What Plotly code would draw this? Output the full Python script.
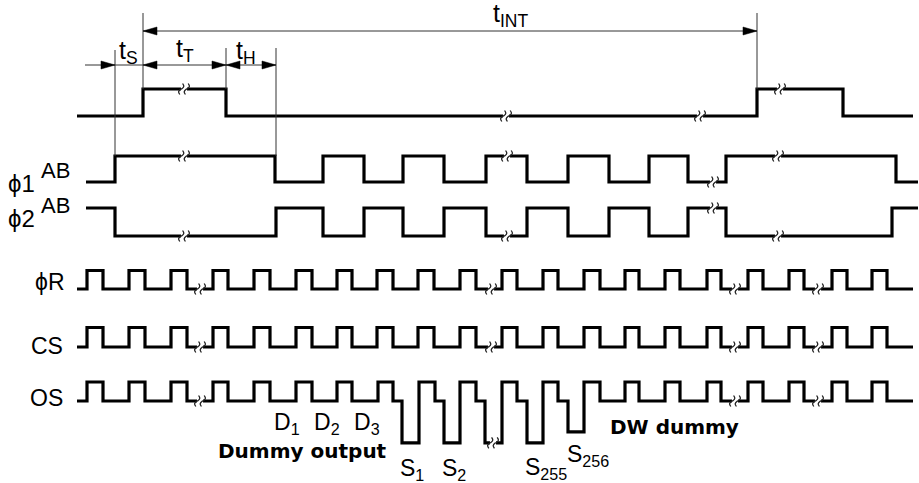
import plotly.graph_objects as go

# ---------------- data (time axis in diagram units) ----------------
# top start pulse
st_start, st_end, st_init = 77, 913, 0
st_edges = [143, 226, 757, 843]
st_breaks = [(184, 1), (506, 0), (700, 0), (780, 1)]

# phi1 / phi2 transfer clocks
ph_start, ph_end = 86, 918
phi1_init = 0
phi1_edges = [115, 275, 323, 364, 403, 444, 486, 527, 568, 609, 649, 688, 726, 896]
phi1_breaks = [(184, 1), (507, 1), (713, 0), (778, 1)]
phi2_init = 1
phi2_edges = [115, 276, 323, 364, 403, 444, 486, 527, 568, 609, 649, 688, 726, 892]
phi2_breaks = [(184, 0), (507, 0), (713, 1), (778, 0)]

# reset / clamp clocks
clk_start, clk_end = 77, 913
clk_rise = [87, 129, 171, 213, 254, 296, 337, 377, 418, 460, 502, 543, 584,
            625, 665, 707, 748, 789, 832, 872]
clk_fall = [103, 145, 187, 228, 270, 312, 352, 393, 434, 476, 517, 558, 600,
            639, 680, 721, 763, 804, 847, 887]
clk_breaks = [200, 491, 735, 818]

# output signal: (time, level) ; 1 = high, 0 = low, negative = signal dip
os_times = [77, 87, 103, 129, 145, 171, 187, 213, 228, 254, 270, 296, 312,
            337, 352, 378, 393, 402, 419, 435, 444, 460, 476, 485, 502, 517,
            527, 543, 558, 568, 584, 600, 625, 639, 665, 680, 707, 721, 748,
            763, 789, 804, 832, 847, 872, 887, 913]
os_levels = [0, 1, 0, 1, 0, 1, 0, 1, 0, 1, 0, 1, 0,
             1, 0, 1, 0, -2.2, 1, 0, -2.2, 1, 0, -2.2, 1, 0,
             -2.2, 1, 0, -1.63, 1, 0, 1, 0, 1, 0, 1, 0, 1,
             0, 1, 0, 1, 0, 1, 0, 0]
os_breaks = [(200, 0), (493, -2.2), (735, 0), (818, 0)]

# dimension lines
dim_vlines = [(115, 50, 156), (143, 13, 89), (226, 48, 89), (276, 48, 156), (757, 13, 89)]
tint_span = (143, 757)
lower_span = (85, 276)
arrow_tips_right = [115, 226, 276]
arrow_tips_left = [143, 226]

# ---------------- layout / style ----------------
ROWS = {
    "st": (116, 27),
    "phi1": (182, 26),
    "phi2": (236, 28),
    "phiR": (289, 18.5),
    "cs": (347, 19.5),
    "os": (401, 19),
}
TINT_Y = 31
LOWER_Y = 65
WAVE_W = 3.2
FONT = "Liberation Sans, Arial, sans-serif"
BOLD_FONT = "DejaVu Sans, sans-serif"

fig = go.Figure()


def ypix(row, level):
    y0, amp = ROWS[row]
    return y0 - level * amp


def toggle_wave(start, end, init, edges):
    xs = [start] + list(edges) + [end]
    lv = [init]
    for _ in edges:
        lv.append(1 - lv[-1])
    lv.append(lv[-1])
    return xs, lv


def add_wave(row, xs, lv):
    fig.add_trace(go.Scatter(
        x=xs, y=[ypix(row, v) for v in lv], mode="lines",
        line=dict(color="black", width=WAVE_W, shape="hv"),
        hoverinfo="skip", showlegend=False))


def clock_wave(start, end, rises, falls):
    xs = [start]
    lv = [0]
    for r, f in zip(rises, falls):
        xs += [r, f]
        lv += [1, 0]
    xs.append(end)
    lv.append(0)
    return xs, lv


waves = [
    ("st", toggle_wave(st_start, st_end, st_init, st_edges)),
    ("phi1", toggle_wave(ph_start, ph_end, phi1_init, phi1_edges)),
    ("phi2", toggle_wave(ph_start, ph_end, phi2_init, phi2_edges)),
    ("phiR", clock_wave(clk_start, clk_end, clk_rise, clk_fall)),
    ("cs", clock_wave(clk_start, clk_end, clk_rise, clk_fall)),
    ("os", (os_times, os_levels)),
]
for row, (xs, lv) in waves:
    add_wave(row, xs, lv)

# break marks
breaks = ([("st", t, l) for t, l in st_breaks] +
          [("phi1", t, l) for t, l in phi1_breaks] +
          [("phi2", t, l) for t, l in phi2_breaks] +
          [("phiR", t, 0) for t in clk_breaks] +
          [("cs", t, 0) for t in clk_breaks] +
          [("os", t, l) for t, l in os_breaks])
gx, gy, sx, sy = [], [], [], []
S_SHAPE = [(-1.4, 5.5), (-2.6, 2.8), (-0.7, 0.3), (0.7, -0.3), (2.6, -2.8), (1.4, -5.5)]
for row, t, l in breaks:
    y = ypix(row, l)
    gx += [t - 3, t + 3, None]
    gy += [y, y, None]
    for off in (-2.8, 2.8):
        for dx, dy in S_SHAPE:
            sx.append(t + off + dx)
            sy.append(y + dy)
        sx.append(None)
        sy.append(None)
fig.add_trace(go.Scatter(x=gx, y=gy, mode="lines", line=dict(color="white", width=6),
                         hoverinfo="skip", showlegend=False))
fig.add_trace(go.Scatter(x=sx, y=sy, mode="lines", line=dict(color="#222", width=1.3, shape="spline"),
                         hoverinfo="skip", showlegend=False))

# dimension lines
dx_, dy_ = [], []
for x, y1, y2 in dim_vlines:
    dx_ += [x, x, None]
    dy_ += [y1, y2, None]
dx_ += [tint_span[0], tint_span[1], None, lower_span[0], lower_span[1], None]
dy_ += [TINT_Y, TINT_Y, None, LOWER_Y, LOWER_Y, None]
fig.add_trace(go.Scatter(x=dx_, y=dy_, mode="lines", line=dict(color="#333", width=1),
                         hoverinfo="skip", showlegend=False))

# arrowheads
AL, AH = 14, 4
tips = ([(tint_span[0], TINT_Y, -1), (tint_span[1], TINT_Y, 1)] +
        [(t, LOWER_Y, 1) for t in arrow_tips_right] +
        [(t, LOWER_Y, -1) for t in arrow_tips_left])
for x, y, d in tips:
    fig.add_trace(go.Scatter(
        x=[x, x - d * AL, x - d * AL, x], y=[y, y - AH, y + AH, y],
        mode="lines", fill="toself", fillcolor="black",
        line=dict(color="black", width=0.5), hoverinfo="skip", showlegend=False))

# text labels
labels = [
    ("t<sub>S</sub>", 128, 52, 25, False),
    ("t<sub>T</sub>", 185, 50, 25, False),
    ("t<sub>H</sub>", 246, 52, 25, False),
    ("t<sub>INT</sub>", 510, 15, 25, False),
    ("ϕ1", 21, 183, 24, False),
    ("AB", 55, 170, 22, False),
    ("ϕ2", 21, 218, 24, False),
    ("AB", 55, 205, 22, False),
    ("ϕR", 50, 282, 23, False),
    ("CS", 47, 346, 23, False),
    ("OS", 46, 398, 23, False),
    ("D<sub>1</sub>", 287, 423, 23, False),
    ("D<sub>2</sub>", 327, 423, 23, False),
    ("D<sub>3</sub>", 367, 423, 23, False),
    ("S<sub>1</sub>", 412, 469, 23, False),
    ("S<sub>2</sub>", 454, 469, 23, False),
    ("S<sub>255</sub>", 546, 468, 23, False),
    ("S<sub>256</sub>", 588, 455, 23, False),
    ("Dummy output", 302, 451, 20, True),
    ("DW dummy", 674, 427, 20, True),
]
for text, x, y, size, bold in labels:
    fig.add_annotation(
        x=x, y=y, text=("<b>%s</b>" % text) if bold else text, showarrow=False,
        xanchor="center", yanchor="middle",
        font=dict(family=BOLD_FONT if bold else FONT, size=size, color="black"))

fig.update_layout(
    width=919, height=483, margin=dict(l=0, r=0, t=0, b=0),
    paper_bgcolor="white", plot_bgcolor="white",
    xaxis=dict(range=[0, 919], visible=False, fixedrange=True),
    yaxis=dict(range=[483, 0], visible=False, fixedrange=True),
    showlegend=False,
)
fig.write_html("out.html", config={"displayModeBar": False},
               post_script="document.body.style.margin='0';document.body.style.overflow='hidden';")
